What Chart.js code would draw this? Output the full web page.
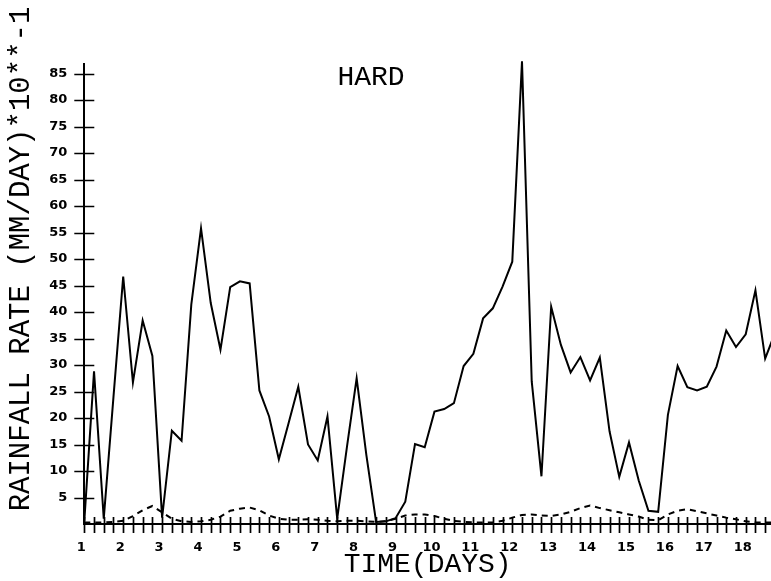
<!DOCTYPE html>
<html>
<head>
<meta charset="utf-8">
<script src="https://cdn.jsdelivr.net/npm/chart.js@4.4.1/dist/chart.umd.min.js"></script>
<style>
  html, body { margin: 0; padding: 0; background: #fff; }
  #wrap { width: 771px; height: 581px; position: relative; }
</style>
</head>
<body>
<div id="wrap"><canvas id="c" width="771" height="581"></canvas></div>
<script>
// ---- data (6-hourly samples starting at day 1) ----
const startDay = 1;
const stepDays = 0.25;
const solidRain = [
  0.5, 28.8, 1.0, 24.0, 46.7, 26.7, 38.4, 31.7, 1.2, 17.6,
  15.7, 41.4, 55.8, 41.7, 32.9, 44.7, 45.8, 45.4, 25.2, 20.3,
  12.2, 19.0, 25.9, 15.0, 12.0, 20.3, 1.0, 14.5, 27.5, 13.0,
  0.4, 0.5, 1.1, 4.2, 15.1, 14.5, 21.2, 21.7, 22.8, 29.8,
  32.1, 38.8, 40.7, 44.8, 49.5, 87.3, 26.9, 9.0, 41.0, 33.8,
  28.6, 31.5, 27.1, 31.4, 17.5, 8.9, 15.4, 8.2, 2.5, 2.3,
  20.6, 29.8, 25.8, 25.2, 25.9, 29.7, 36.5, 33.4, 35.8, 44.1,
  31.2, 36.0
];
const dashedRain = [
  0.3, 0.3, 0.3, 0.4, 0.6, 1.5, 2.6, 3.4, 2.2, 1.0,
  0.5, 0.4, 0.5, 0.8, 1.4, 2.5, 2.9, 3.1, 2.6, 1.6,
  1.0, 0.8, 0.8, 0.9, 0.8, 0.6, 0.5, 0.6, 0.6, 0.5,
  0.4, 0.5, 1.0, 1.6, 1.8, 1.8, 1.5, 1.0, 0.6, 0.4,
  0.3, 0.3, 0.3, 0.6, 1.2, 1.7, 1.8, 1.6, 1.5, 1.8,
  2.3, 3.0, 3.5, 3.0, 2.6, 2.2, 1.8, 1.4, 0.8, 0.7,
  1.8, 2.5, 2.8, 2.4, 2.0, 1.6, 1.2, 0.9, 0.5, 0.3,
  0.3, 0.3
];
const xTickDays = [1,2,3,4,5,6,7,8,9,10,11,12,13,14,15,16,17,18];
const yTickValues = [5,10,15,20,25,30,35,40,45,50,55,60,65,70,75,80,85];
const xRange = [1, 18.65];
const yRange = [0, 86.8];
const yTitle = 'RAINFALL RATE (MM/DAY)*10**-1';
const xTitle = 'TIME(DAYS)';
const panelLabel = 'HARD';
const panelLabelAt = { day: 8.37, value: 84.2 };

const toPoints = arr => arr.map((v, i) => ({ x: startDay + i * stepDays, y: v }));

const titleFont = '"Liberation Mono", "DejaVu Sans Mono", monospace';
const tickFont = { family: '"DejaVu Sans", sans-serif', size: 13, weight: 'bold' };

const overlay = {
  id: 'overlay',
  afterDraw(chart) {
    const { ctx, scales: { x, y } } = chart;
    ctx.save();
    ctx.strokeStyle = '#000';
    ctx.lineWidth = 1.7;
    // minor x ticks crossing the axis every 6 hours
    const base = y.getPixelForValue(0);
    ctx.beginPath();
    for (let d = xRange[0]; d <= x.max + 1e-9; d += stepDays) {
      const px = Math.round(x.getPixelForValue(d)) + 0.5;
      ctx.moveTo(px, base - 7);
      ctx.lineTo(px, base + 9);
    }
    // y ticks crossing the axis
    const ax = x.getPixelForValue(xRange[0]);
    yTickValues.forEach(v => {
      const py = Math.round(y.getPixelForValue(v)) + 0.5;
      ctx.moveTo(ax - 10, py);
      ctx.lineTo(ax + 10, py);
    });
    ctx.stroke();

    // texts
    ctx.fillStyle = '#000';
    ctx.font = '28px ' + titleFont;
    ctx.textAlign = 'center';
    ctx.textBaseline = 'middle';
    ctx.fillText(panelLabel, x.getPixelForValue(panelLabelAt.day), y.getPixelForValue(panelLabelAt.value));
    ctx.save();
    ctx.font = '29px ' + titleFont;
    ctx.translate(21, 259);
    ctx.rotate(-Math.PI / 2);
    ctx.fillText(yTitle, 0, 0);
    ctx.restore();
    ctx.restore();
  }
};

new Chart(document.getElementById('c'), {
  type: 'line',
  data: {
    datasets: [
      { data: toPoints(solidRain), borderColor: '#000', borderWidth: 2, pointRadius: 0, tension: 0,
        clip: { left: 0, right: 0, top: 10, bottom: 0 } },
      { data: toPoints(dashedRain), borderColor: '#000', borderWidth: 2, borderDash: [6, 5], pointRadius: 0, tension: 0,
        clip: { left: 0, right: 0, top: 10, bottom: 0 } }
    ]
  },
  options: {
    responsive: false,
    animation: false,
    devicePixelRatio: 1,
    layout: { padding: { top: 64, left: 0, right: 0, bottom: 0 } },
    plugins: { legend: { display: false }, tooltip: { enabled: false }, title: { display: false } },
    scales: {
      x: {
        type: 'linear',
        min: xRange[0], max: xRange[1],
        afterFit: s => { s.height = 57; },
        afterBuildTicks: s => { s.ticks = xTickDays.map(v => ({ value: v })); },
        grid: { display: false, drawTicks: false },
        border: { display: true, color: '#000', width: 2 },
        ticks: { color: '#000', font: tickFont, padding: 16, maxRotation: 0, autoSkip: false, labelOffset: -3 },
        title: { display: true, text: xTitle, color: '#000',
                 font: { family: titleFont, size: 28 }, padding: { top: 0, bottom: 0 } }
      },
      y: {
        type: 'linear',
        min: yRange[0], max: yRange[1],
        afterFit: s => { s.width = 84.3; },
        afterBuildTicks: s => { s.ticks = yTickValues.map(v => ({ value: v })); },
        grid: { display: false, drawTicks: false },
        border: { display: true, color: '#000', width: 2 },
        ticks: { color: '#000', font: tickFont, padding: 17, autoSkip: false }
      }
    }
  },
  plugins: [overlay]
});
</script>
</body>
</html>
